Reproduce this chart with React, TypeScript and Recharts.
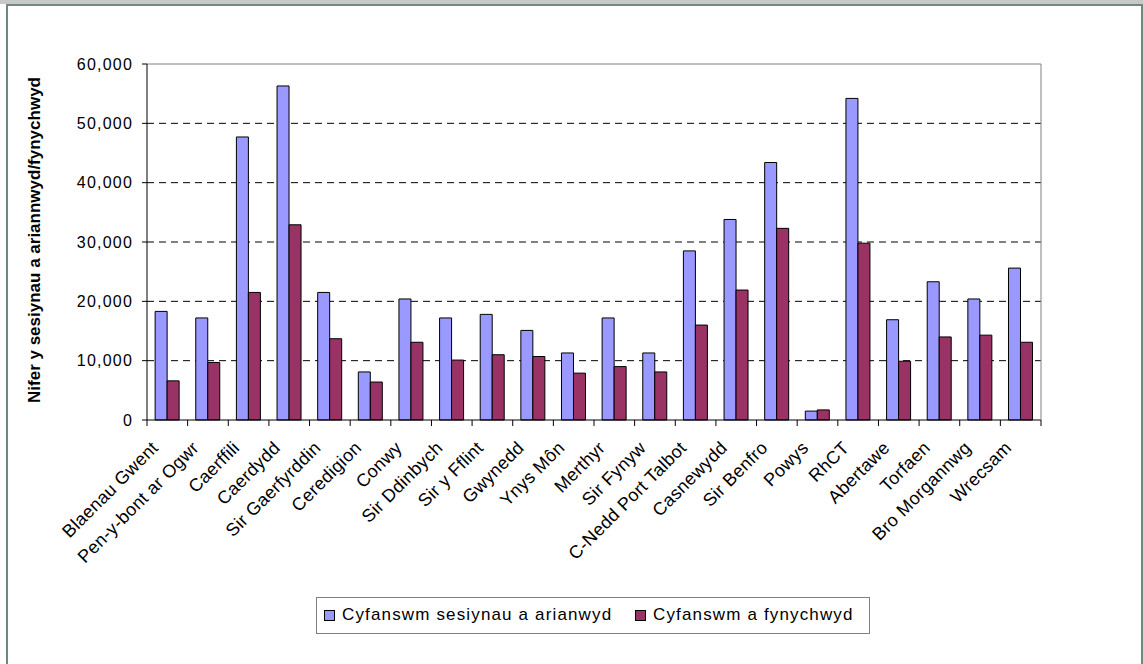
import React from 'react';
import { BarChart, Bar, XAxis, YAxis, CartesianGrid, Legend, ReferenceLine, Label } from 'recharts';

const categories = [
  'Blaenau Gwent', 'Pen-y-bont ar Ogwr', 'Caerffili', 'Caerdydd', 'Sir Gaerfyrddin', 'Ceredigion',
  'Conwy', 'Sir Ddinbych', 'Sir y Fflint', 'Gwynedd', 'Ynys Môn', 'Merthyr', 'Sir Fynyw',
  'C-Nedd Port Talbot', 'Casnewydd', 'Sir Benfro', 'Powys', 'RhCT', 'Abertawe', 'Torfaen',
  'Bro Morgannwg', 'Wrecsam',
];

// Cyfanswm sesiynau a arianwyd
const fundedSessions = [
  18300, 17200, 47700, 56300, 21500, 8100, 20400, 17200, 17800, 15100, 11300,
  17200, 11300, 28500, 33800, 43400, 1500, 54200, 16900, 23300, 20400, 25600,
];

// Cyfanswm a fynychwyd
const attended = [
  6600, 9700, 21500, 32900, 13700, 6400, 13100, 10100, 11000, 10700, 7900,
  9000, 8100, 16000, 21900, 32300, 1700, 29800, 9900, 14000, 14300, 13100,
];

const seriesNames = ['Cyfanswm sesiynau a arianwyd', 'Cyfanswm a fynychwyd'];
const seriesColors = ['#9999ff', '#993366'];
const yTicks = [0, 10000, 20000, 30000, 40000, 50000, 60000];

const data = categories.map((name, i) => ({ name, funded: fundedSessions[i], attended: attended[i] }));

const W = 1143;
const H = 664;
const PLOT_LEFT = 147;
const PLOT_RIGHT = 1041;
const PLOT_TOP = 64;
const PLOT_BOTTOM = 420;
const BAND = (PLOT_RIGHT - PLOT_LEFT) / categories.length;
const FONT = '"Liberation Sans", Arial, sans-serif';

const XTick = (props: any) => {
  const { x, y, payload, index } = props;
  return (
    <g transform={`translate(${x},${y})`}>
      <line x1={BAND / 2} x2={BAND / 2} y1={0} y2={6} stroke="#000" />
      {index === 0 && <line x1={-BAND / 2} x2={-BAND / 2} y1={0} y2={6} stroke="#000" />}
      <text
        x={0}
        y={0}
        transform="translate(-8,29) rotate(-45)"
        textAnchor="end"
        fontSize={18}
        letterSpacing={0.3}
        fill="#000"
        fontFamily={FONT}
      >
        {payload.value}
      </text>
    </g>
  );
};

// legend item offsets inside the box: [square, text]
const legendOffsets = [[7, 25], [318, 336]];

const LegendBox = () => (
  <div
    style={{
      position: 'relative',
      width: 554,
      height: 37,
      border: '1px solid #808080',
      background: '#fff',
      fontFamily: FONT,
      fontSize: 17,
      letterSpacing: 1.15,
      color: '#000',
      boxSizing: 'border-box',
    }}
  >
    {seriesNames.map((n, i) => (
      <React.Fragment key={n}>
        <span
          style={{
            position: 'absolute',
            left: legendOffsets[i][0],
            top: 12,
            width: 9,
            height: 9,
            background: seriesColors[i],
            border: '1px solid #000',
          }}
        />
        <span style={{ position: 'absolute', left: legendOffsets[i][1], top: 7, lineHeight: '20px', whiteSpace: 'nowrap' }}>{n}</span>
      </React.Fragment>
    ))}
  </div>
);

export default function App() {
  return (
    <div style={{ position: 'absolute', left: 0, top: 0, width: W, height: H, background: '#fff', overflow: 'hidden' }}>
      <div style={{ position: 'absolute', left: 0, top: 0, width: W, height: 4, background: '#c8c8c8' }} />
      <div
        style={{
          position: 'absolute',
          left: 6,
          top: 4,
          width: W - 6,
          height: H,
          borderLeft: '2px solid #6f8a7b',
          borderTop: '2px solid #6f8a7b',
          borderRight: '2px solid #6f8a7b',
          boxSizing: 'border-box',
        }}
      />
      <div style={{ position: 'absolute', left: 0, top: 0 }}>
        <BarChart
          width={W}
          height={H}
          data={data}
          margin={{ top: PLOT_TOP, right: W - PLOT_RIGHT - 1, left: 0, bottom: 0 }}
          barCategoryGap="20%"
          barGap={0}
        >
          <CartesianGrid vertical={false} stroke="#000" strokeDasharray="7 5" horizontalValues={[10000, 20000, 30000, 40000, 50000]} />
          <XAxis
            dataKey="name"
            interval={0}
            height={H - PLOT_BOTTOM}
            tickSize={0}
            tickMargin={0}
            tickLine={false}
            axisLine={{ stroke: '#000' }}
            tick={<XTick />}
          />
          <YAxis
            width={PLOT_LEFT}
            domain={[0, 60000]}
            ticks={yTicks}
            tickSize={5}
            tickMargin={9}
            axisLine={{ stroke: '#000' }}
            tickLine={{ stroke: '#000' }}
            tick={{ fill: '#000', fontSize: 16, fontFamily: FONT, letterSpacing: 1.2 }}
            tickFormatter={(v: number) => v.toLocaleString('en-US')}
          >
            <Label
              content={() => (
                <text
                  x={40}
                  y={240}
                  transform="rotate(-90 40 240)"
                  textAnchor="middle"
                  fontSize={17}
                  fontWeight="bold"
                  fontFamily={FONT}
                  fill="#000"
                >
                  Nifer y sesiynau a ariannwyd/fynychwyd
                </text>
              )}
            />
          </YAxis>
          <YAxis
            yAxisId="right"
            orientation="right"
            width={1}
            domain={[0, 60000]}
            tick={false}
            tickLine={false}
            axisLine={{ stroke: '#808080' }}
          />
          <ReferenceLine y={60000} stroke="#808080" />
          <Bar dataKey="funded" name={seriesNames[0]} fill={seriesColors[0]} stroke="#000" strokeWidth={1} isAnimationActive={false} />
          <Bar dataKey="attended" name={seriesNames[1]} fill={seriesColors[1]} stroke="#000" strokeWidth={1} isAnimationActive={false} />
          <Legend
            layout="horizontal"
            verticalAlign="middle"
            align="center"
            wrapperStyle={{ position: 'absolute', left: 316, top: 597, width: 554 }}
            content={() => <LegendBox />}
          />
        </BarChart>
      </div>
    </div>
  );
}
